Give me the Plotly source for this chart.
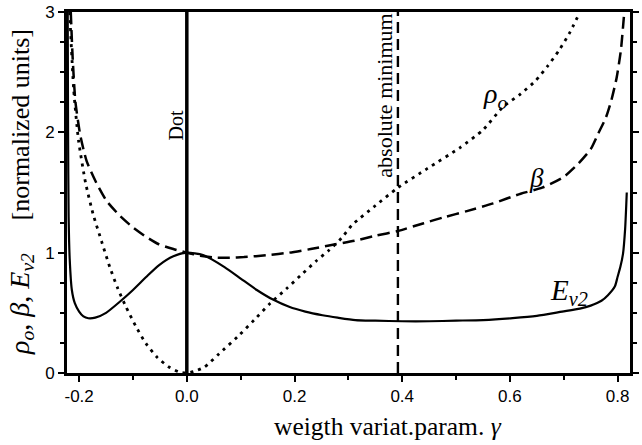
import plotly.graph_objects as go

# ---------------- data ----------------
ev2_x = [-0.2212, -0.2205, -0.2195, -0.2175, -0.2135, -0.208, -0.2, -0.192, -0.183, -0.17, -0.15,
         -0.125, -0.1, -0.075, -0.052, -0.025, 0.0, 0.03, 0.07, 0.1, 0.13, 0.16, 0.19, 0.22,
         0.252, 0.28, 0.313, 0.35, 0.4, 0.45, 0.5, 0.55, 0.605, 0.65, 0.697, 0.73, 0.75, 0.77,
         0.782, 0.795, 0.80, 0.805, 0.81, 0.814, 0.817]
ev2_y = [3.0, 2.0, 1.30, 0.95, 0.69, 0.58, 0.51, 0.47, 0.455, 0.46, 0.50,
         0.59, 0.69, 0.80, 0.895, 0.97, 1.0, 0.98, 0.88, 0.785, 0.69, 0.61, 0.55, 0.51,
         0.48, 0.46, 0.44, 0.435, 0.43, 0.43, 0.435, 0.44, 0.456, 0.475, 0.51, 0.535, 0.56, 0.60,
         0.646, 0.72, 0.80, 0.88, 0.99, 1.2, 1.5]

rho_x = [-0.2175, -0.21, -0.201, -0.188, -0.174, -0.158, -0.143, -0.128, -0.113, -0.095, -0.076,
         -0.055, -0.034, -0.015, 0.0, 0.015, 0.033, 0.06, 0.094, 0.125, 0.155, 0.185, 0.216, 0.24,
         0.264, 0.287, 0.307, 0.35, 0.392, 0.447, 0.508, 0.55, 0.587, 0.62, 0.648, 0.67, 0.691,
         0.71, 0.728]
rho_y = [3.0, 2.35, 1.93, 1.58, 1.32, 1.09, 0.88, 0.70, 0.55, 0.39, 0.246,
         0.13, 0.052, 0.01, 0.0, 0.015, 0.05, 0.16, 0.30, 0.44, 0.58, 0.70, 0.83, 0.93,
         1.02, 1.12, 1.23, 1.39, 1.54, 1.70, 1.875, 2.02, 2.21, 2.32, 2.43, 2.55, 2.68,
         2.82, 2.98]

beta_x = [-0.2155, -0.212, -0.207, -0.198, -0.186, -0.168, -0.149, -0.125, -0.1, -0.075, -0.052,
          -0.025, 0.0, 0.025, 0.05, 0.08, 0.106, 0.15, 0.19, 0.23, 0.264, 0.313, 0.35, 0.392,
          0.44, 0.478, 0.52, 0.569, 0.62, 0.66, 0.7, 0.727, 0.75, 0.764, 0.778, 0.788, 0.798,
          0.806, 0.812]
beta_y = [3.0, 2.62, 2.26, 1.98, 1.76, 1.58, 1.43, 1.31, 1.21, 1.13, 1.07,
          1.03, 1.0, 0.975, 0.96, 0.958, 0.963, 0.98, 1.0, 1.03, 1.06, 1.10, 1.14, 1.18,
          1.245, 1.295, 1.345, 1.41, 1.49, 1.54, 1.63, 1.74, 1.86, 1.99, 2.12, 2.26, 2.45,
          2.68, 2.98]

dot_x = 0.0
absmin_x = 0.392
y_span = [0.0, 3.0]

x_tickvals = [-0.2, 0.0, 0.2, 0.4, 0.6, 0.8]
x_ticktext = ["-0.2", "0.0", "0.2", "0.4", "0.6", "0.8"]
y_tickvals = [0, 1, 2, 3]
y_ticktext = ["0", "1", "2", "3"]

# ---------------- layout helpers ----------------
W, H = 642, 445
ML, MR, MT, MB = 67, 3, 11, 72
PW, PH = W - ML - MR, H - MT - MB


def px(xpix):
    return (xpix - ML) / PW


def py(ypix):
    return (H - MB - ypix) / PH


SERIF = "Liberation Serif"
SANS = "Liberation Sans"

fig = go.Figure()

fig.add_trace(go.Scatter(x=rho_x, y=rho_y, mode="lines",
                         line=dict(color="black", width=2.8, dash="3px,5px", shape="spline", smoothing=0.6),
                         hoverinfo="skip", showlegend=False))
fig.add_trace(go.Scatter(x=beta_x, y=beta_y, mode="lines",
                         line=dict(color="black", width=2.5, dash="12px,6px", shape="spline", smoothing=0.6),
                         hoverinfo="skip", showlegend=False))
fig.add_trace(go.Scatter(x=ev2_x, y=ev2_y, mode="lines",
                         line=dict(color="black", width=2.2, shape="spline", smoothing=0.6),
                         hoverinfo="skip", showlegend=False))
fig.add_trace(go.Scatter(x=[dot_x, dot_x], y=y_span, mode="lines",
                         line=dict(color="black", width=3.5),
                         hoverinfo="skip", showlegend=False))
fig.add_trace(go.Scatter(x=[absmin_x, absmin_x], y=y_span, mode="lines",
                         line=dict(color="black", width=2.4, dash="11px,6px"),
                         hoverinfo="skip", showlegend=False))

annotations = [
    dict(text="weigth variat.param. <i>γ</i>", x=px(393), y=py(427), xref="paper", yref="paper",
         showarrow=False, xanchor="center", yanchor="middle", font=dict(family=SERIF, size=25.5, color="black")),
    dict(text="[normalized units]", x=px(20), y=py(124), xref="paper", yref="paper", textangle=-90,
         showarrow=False, xanchor="center", yanchor="middle", font=dict(family=SERIF, size=26, color="black")),
    dict(text="<i>ρ<sub>o</sub></i>, <i>β</i>, <i>E<sub>v2</sub></i>", x=px(20), y=py(304), xref="paper",
         yref="paper", textangle=-90, showarrow=False, xanchor="center", yanchor="middle",
         font=dict(family=SERIF, size=28, color="black")),
    dict(text="Dot", x=px(177.5), y=py(125), xref="paper", yref="paper", textangle=-90,
         showarrow=False, xanchor="center", yanchor="middle", font=dict(family=SERIF, size=20, color="black")),
    dict(text="absolute minimum", x=px(390), y=py(95), xref="paper", yref="paper", textangle=-90,
         showarrow=False, xanchor="center", yanchor="middle", font=dict(family=SERIF, size=22, color="black")),
    dict(text="<i>ρ<sub>o</sub></i>", x=px(502), y=py(95), xref="paper", yref="paper",
         showarrow=False, xanchor="center", yanchor="middle", font=dict(family=SERIF, size=28, color="black")),
    dict(text="<i>β</i>", x=px(544), y=py(177), xref="paper", yref="paper",
         showarrow=False, xanchor="center", yanchor="middle", font=dict(family=SERIF, size=27, color="black")),
    dict(text="<i>E<sub>v2</sub></i>", x=px(577), y=py(292), xref="paper", yref="paper",
         showarrow=False, xanchor="center", yanchor="middle", font=dict(family=SERIF, size=29, color="black")),
]

fig.update_layout(
    width=W, height=H,
    margin=dict(l=ML, r=MR, t=MT, b=MB, pad=0),
    paper_bgcolor="white", plot_bgcolor="white",
    annotations=annotations,
    xaxis=dict(range=[-0.2225, 0.823], tickvals=x_tickvals, ticktext=x_ticktext,
               showgrid=False, zeroline=False, showline=True, linecolor="black", linewidth=3,
               mirror=True, ticks="outside", ticklen=6, tickwidth=2, tickcolor="black",
               tickfont=dict(family=SANS, size=17, color="black"),
               minor=dict(dtick=0.1, tick0=0, ticks="outside", ticklen=4, tickwidth=2, tickcolor="black", showgrid=False)),
    yaxis=dict(range=[0, 3], tickvals=y_tickvals, ticktext=y_ticktext,
               showgrid=False, zeroline=False, showline=True, linecolor="black", linewidth=3,
               mirror="ticks", ticks="outside", ticklen=6, tickwidth=2, tickcolor="black",
               tickfont=dict(family=SANS, size=17, color="black"),
               minor=dict(dtick=0.25, tick0=0, ticks="outside", ticklen=4, tickwidth=2, tickcolor="black", showgrid=False)),
)

fig.write_html("out.html")
